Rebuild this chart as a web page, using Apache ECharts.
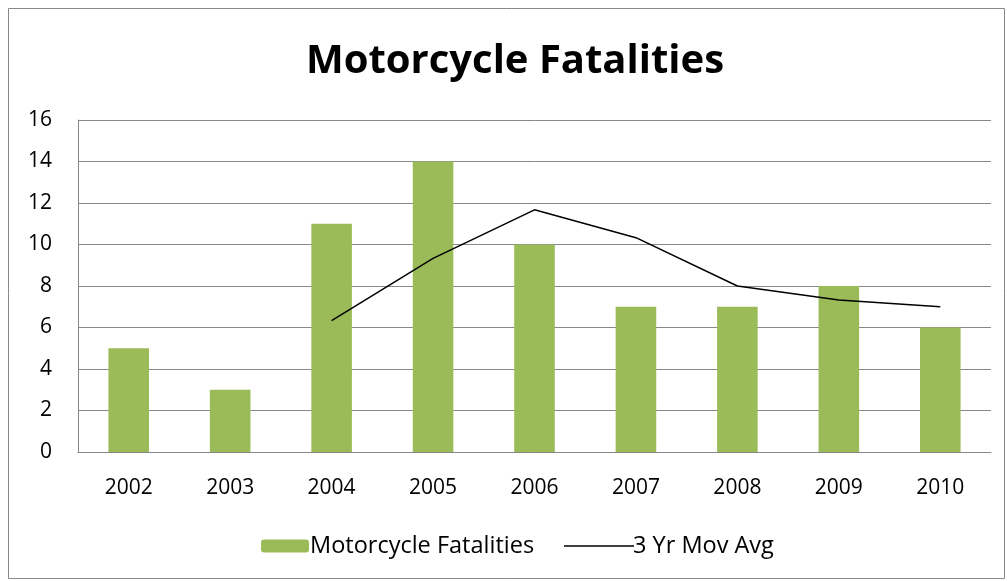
<!DOCTYPE html>
<html>
<head>
<meta charset="utf-8">
<script src="https://cdn.jsdelivr.net/npm/echarts@6/dist/echarts.min.js"></script>
<style>
    html, body { margin: 0; padding: 0; background: #fff; }
    #main { width: 1007px; height: 581px; }
</style>
</head>
<body>
<div id="main"></div>
<script>
// 年份
let years = ['2002', '2003', '2004', '2005', '2006', '2007', '2008', '2009', '2010'];
// 每年死亡人数
let fatalities = [5, 3, 11, 14, 10, 7, 7, 8, 6];
// 三年移动平均 (前两年没有)
let movAvg = ['-', '-', 6.33, 9.33, 11.67, 10.33, 8, 7.33, 7];
let yTicks = [0, 2, 4, 6, 8, 10, 12, 14, 16];

let font = '"Open Sans", "Noto Sans", sans-serif';

let option = {
    animation: false,
    backgroundColor: '#fff',
    // 标题
    title: {
        text: 'Motorcycle Fatalities',
        left: 301,
        top: 37,
        textStyle: {
            fontFamily: font,
            fontWeight: 'bold',
            fontSize: 40,
            color: '#000'
        }
    },
    // 外框
    graphic: [{
        type: 'rect',
        shape: { x: 8.5, y: 8.5, width: 996, height: 570 },
        style: { fill: 'none', stroke: '#888', lineWidth: 1 },
        silent: true
    }],
    legend: [{
        data: ['Motorcycle Fatalities'],
        left: 256,
        top: 529,
        itemWidth: 48,
        itemHeight: 13,
        itemGap: 6,
        textStyle: { fontFamily: font, fontSize: 23.5, color: '#000', padding: [0, 0, 0, -4] }
    }, {
        data: [{ name: '3 Yr Mov Avg', icon: 'rect' }],
        left: 559,
        top: 529,
        itemWidth: 70,
        itemHeight: 1.5,
        textStyle: { fontFamily: font, fontSize: 23.5, color: '#000', padding: [0, 0, 0, -6] }
    }],
    grid: {
        left: 78,
        right: 16,
        top: 120,
        bottom: 129,
        containLabel: false
    },
    xAxis: {
        type: 'category',
        data: years,
        axisLine: { lineStyle: { color: '#888', width: 1 } },
        axisTick: { show: false },
        axisLabel: { fontFamily: font, fontSize: 21, color: '#000', margin: 26 }
    },
    yAxis: {
        type: 'value',
        min: yTicks[0],
        max: yTicks[yTicks.length - 1],
        interval: 2,
        axisLine: { show: true, lineStyle: { color: '#888', width: 1 } },
        axisTick: { show: false },
        splitLine: { lineStyle: { color: '#888', width: 1 } },
        axisLabel: { fontFamily: font, fontSize: 21, color: '#000', margin: 26 }
    },
    series: [{
        name: 'Motorcycle Fatalities',
        type: 'bar',
        data: fatalities,
        barWidth: '40%',
        itemStyle: { color: '#9bbb59' }
    }, {
        name: '3 Yr Mov Avg',
        type: 'line',
        data: movAvg,
        showSymbol: false,
        symbol: 'none',
        itemStyle: { color: '#000' },
        lineStyle: { color: '#000', width: 1.5 }
    }]
};

echarts.init(document.getElementById('main')).setOption(option);
</script>
</body>
</html>
